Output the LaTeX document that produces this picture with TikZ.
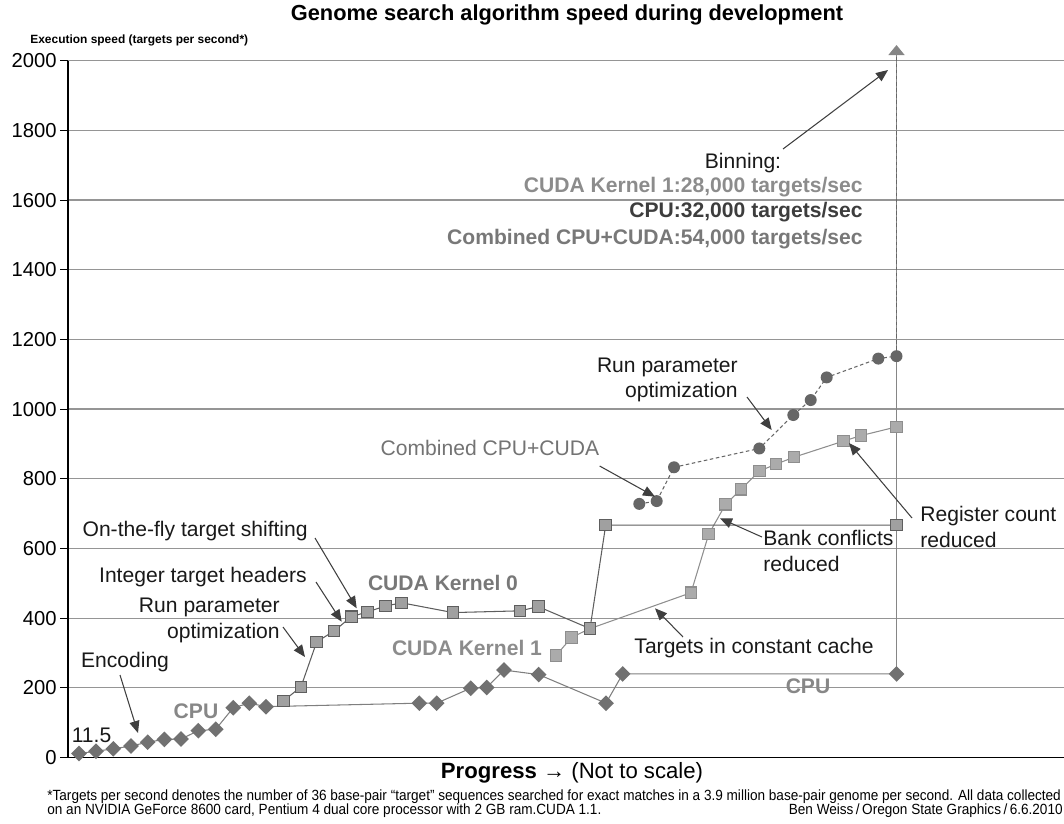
\documentclass[tikz,border=0pt]{standalone}
\usepackage{fontspec}
\setmainfont{Liberation Sans}
\newfontfamily\narrowfont[FakeStretch=0.92]{Liberation Sans}
\usetikzlibrary{arrows.meta}
\usetikzlibrary{shapes.geometric}
\usepackage{xcolor}
\definecolor{gridgray}{HTML}{959595}
\definecolor{cpugray}{HTML}{717171}
\definecolor{kzerofill}{HTML}{A0A0A0}
\definecolor{kzerodraw}{HTML}{5E5E5E}
\definecolor{konefill}{HTML}{ABABAB}
\definecolor{konedraw}{HTML}{8E8E8E}
\definecolor{combgray}{HTML}{666666}
\definecolor{notegray}{HTML}{3F3F3F}
\newcommand\labsize{\fontsize{12}{14.7}\selectfont}

\tikzset{
  gridline/.style={gridgray, line width=0.7pt},
  cpuline/.style={cpugray!90, line width=0.6pt},
  kzeroline/.style={kzerodraw, line width=0.6pt},
  koneline/.style={konedraw, line width=0.6pt},
  combline/.style={combgray, line width=0.6pt, dash pattern=on 2pt off 1.5pt},
  cpumark/.style={diamond, fill=cpugray, inner sep=0, minimum size=3.2mm},
  kzeromark/.style={rectangle, fill=kzerofill, draw=kzerodraw, line width=0.6pt, inner sep=0, minimum size=2.3mm},
  konemark/.style={rectangle, fill=konefill, draw=konedraw, line width=0.6pt, inner sep=0, minimum size=2.3mm},
  combmark/.style={circle, fill=combgray, inner sep=0, minimum size=2.4mm},
  notelab/.style={inner sep=0, text=black!90, font=\labsize},
  serieslab/.style={inner sep=0, font=\labsize\bfseries},
  note/.style={notegray, line width=0.6pt, ->, >={Triangle[length=2.4mm, width=2mm]}},
  footlab/.style={anchor=west, inner sep=0, font=\narrowfont\fontsize{8.4}{9}\selectfont},
}

\begin{document}
\begin{tikzpicture}[x=0.2mm, y=-0.2mm]
\useasboundingbox (0,0) rectangle (1064,823);

% grid and axes
\foreach \v [evaluate=\v as \y using 757.5-0.3484*\v] in {200,400,...,2000} {
 \draw[gridline] (68,\y) -- (1064,\y);
}
\foreach \v [evaluate=\v as \y using 757.5-0.3484*\v] in {0,200,...,2000} {
 \draw[black, line width=0.6pt] (60,\y) -- (68,\y);
 \node[anchor=east, inner sep=0, font=\fontsize{11.5}{13}\selectfont] (tick\v) at (57,\y) {\v};
}
\draw[black, line width=0.8pt] (68,60.7) -- (68,757.5) -- (1064,757.5);

% data points
\foreach \x/\v [count=\i] in {79/11.5, 96/18, 113.3/25, 131/33, 147.7/44, 164.3/52, 181/53, 198.3/77, 215.7/81, 233.3/143, 249.3/156, 266/146, 419.3/156, 436.7/156, 470.7/199, 486.7/201, 504/251, 538.7/238, 606/156, 622.7/240, 896.5/240}
 \coordinate (cpu\i) at (\x,{757.5-0.3484*\v});
\foreach \x/\v [count=\i] in {283.3/162, 301/203, 316.7/332, 334/363, 351.3/404, 367.3/418, 385.7/435, 401.7/444, 453/416, 520/421, 538.3/433, 590/370, 605.7/667, 896.5/667}
 \coordinate (kzero\i) at (\x,{757.5-0.3484*\v});
\foreach \x/\v [count=\i] in {556/293, 571.7/345, 590/370, 691/473, 708.7/641, 725.7/727, 741/770, 759.3/822, 776/842, 794/862, 843.3/908, 861/924, 896.5/949}
 \coordinate (kone\i) at (\x,{757.5-0.3484*\v});
\foreach \x/\v [count=\i] in {639.3/728, 656.7/736, 674/833, 759.3/887, 793.3/983, 810.7/1026, 826.7/1091, 878.3/1145, 896.5/1152}
 \coordinate (comb\i) at (\x,{757.5-0.3484*\v});
\coordinate (top) at (896.5,45);
\coordinate (topbase) at (896.5,55);

% series lines
\draw[gray!95, line width=0.8pt, -{Triangle[length=2mm, width=3.2mm]}] (cpu21) -- (top);
\draw[combline] (comb9) -- (topbase);
\draw[cpuline] (cpu1) \foreach \i in {2,...,21} {-- (cpu\i)};
\draw[koneline] (kone1) \foreach \i in {2,...,13} {-- (kone\i)};
\draw[kzeroline] (kzero1) \foreach \i in {2,...,14} {-- (kzero\i)};
\draw[combline] (comb1) \foreach \i in {2,...,9} {-- (comb\i)};

% markers
\foreach \i in {1,...,21} \node[cpumark] (cpumk\i) at (cpu\i) {};
\foreach \i in {1,...,13} \node[konemark] (konemk\i) at (kone\i) {};
\foreach \i in {1,...,14} \node[kzeromark] (kzeromk\i) at (kzero\i) {};
\foreach \i in {1,...,9} \node[combmark] (combmk\i) at (comb\i) {};

% titles
\node[inner sep=0, font=\fontsize{12.4}{14}\selectfont\bfseries] (title) at (567,15) {Genome search algorithm speed during development};
\node[anchor=west, inner sep=0, font=\fontsize{6.8}{8}\selectfont\bfseries] (ylab) at (30,40) {Execution speed (targets per second*)};
\node[inner sep=0, font=\fontsize{12.6}{14}\selectfont] (xlab) at (572,773) {\textbf{Progress} → (Not to scale)};

% series labels
\node[serieslab, text=black!47] (cpulab) at (196,711) {CPU};
\node[serieslab, text=black!47] (cpulabr) at (808,686) {CPU};
\node[serieslab, text=black!53] (kzerolab) at (443,583) {CUDA Kernel 0};
\node[serieslab, text=black!45] (konelab) at (467,648) {CUDA Kernel 1};
\node[notelab, text=black!55] (comblab) at (490,448) {Combined CPU+CUDA};
\node[notelab] (startlab) at (91.5,735) {11.5};

% notes
\node[notelab] (encl) at (125,662) {Encoding};
\node[notelab, anchor=east, align=right] (runl) at (280,620) {Run parameter\\optimization};
\node[notelab, anchor=east] (intl) at (307,577) {Integer target headers};
\node[notelab, anchor=east] (flyl) at (308,531) {On-the-fly target shifting};
\node[notelab, anchor=east, align=right] (runr) at (738,380) {Run parameter\\optimization};
\node[notelab, anchor=west, align=left] (bankl) at (763,551) {Bank conflicts\\reduced};
\node[notelab, anchor=west, align=left] (regl) at (920,527) {Register count\\reduced};
\node[notelab] (tgtl) at (754,648) {Targets in constant cache};
\node[notelab] (binl) at (743,163) {Binning:};
\node[serieslab, anchor=east, text=black!45] (binone) at (863,187) {CUDA Kernel 1:28,000 targets/sec};
\node[serieslab, anchor=east, text=black!76] (bincpu) at (863,212) {CPU:32,000 targets/sec};
\node[serieslab, anchor=east, text=black!53] (bincomb) at (863,239) {Combined CPU+CUDA:54,000 targets/sec};

\coordinate (encT) at (138,733);
\coordinate (runlT) at (305,657);
\coordinate (intT) at (341.7,621.7);
\coordinate (flyT) at (356.7,608.3);
\coordinate (combT) at (655,496.7);
\coordinate (runrT) at (771.7,430);
\coordinate (binT) at (888,70);
\coordinate (regT) at (849,443);
\coordinate (bankT) at (720,518.3);
\coordinate (tgtT) at (655,608.3);

\draw[note] ([shift={(-5,13)}]encl.center) -- (encT);
\draw[note] ([shift={(3,7)}]runl.east) -- (runlT);
\draw[note] ([shift={(9,5)}]intl.east) -- (intT);
\draw[note] ([shift={(7,7)}]flyl.east) -- (flyT);
\draw[note] ([shift={(0,18)}]comblab.east) -- (combT);
\draw[note] ([shift={(9,17)}]runr.east) -- (runrT);
\draw[note] ([shift={(40,-14)}]binl.center) -- (binT);
\draw[note] ([shift={(-8,-9)}]regl.west) -- (regT);
\draw[note] ([shift={(-1,-14)}]bankl.west) -- (bankT);
\draw[note] ([shift={(-71,-11)}]tgtl.center) -- (tgtT);

% footnote
\node[footlab] (fnone) at (47,797) {*Targets per second denotes the number of 36 base-pair “target” sequences searched for exact matches in a 3.9 million base-pair genome per second. All data collected};
\node[footlab] (fntwo) at (47,811) {on an NVIDIA GeForce 8600 card, Pentium 4 dual core processor with 2 GB ram.CUDA 1.1.};
\node[footlab, anchor=east] (credit) at (1063,811) {Ben Weiss\,/\,Oregon State Graphics\,/\,6.6.2010};
\end{tikzpicture}
\end{document}
